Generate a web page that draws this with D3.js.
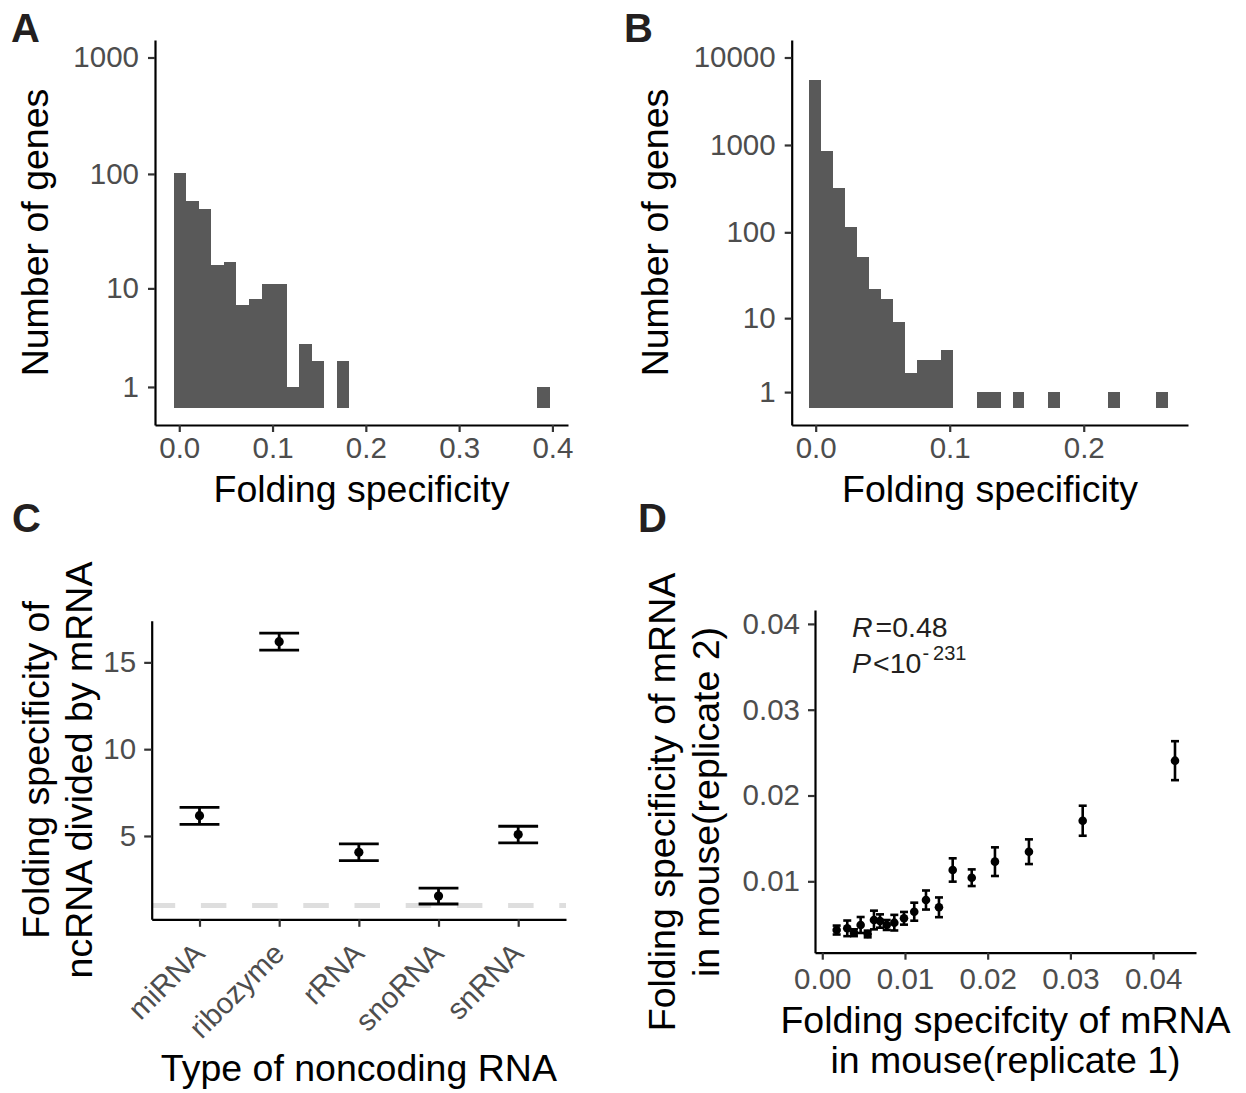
<!DOCTYPE html>
<html>
<head>
<meta charset="utf-8">
<script src="https://cdn.jsdelivr.net/npm/d3@7"></script>
<style>
  body { margin: 0; background: #fff; }
  svg { display: block; font-family: "Liberation Sans", Arial, Helvetica, sans-serif; }
</style>
</head>
<body>
<svg id="fig" width="1246" height="1093"></svg>
<script>
// ---------- Panel A: folding specificity histogram (30 bins) ----------
const binStartA = -0.0058;
const binWidthA = 0.01343;
const countsA = [102, 58, 50, 16, 17, 7, 8, 11, 11, 1, 3, 2, 0, 2, 0,
                 0, 0, 0, 0, 0, 0, 0, 0, 0, 0, 0, 0, 0, 0, 1];
const xTicksA = [0, 0.1, 0.2, 0.3, 0.4];
const yTicksA = [1, 10, 100, 1000];

// ---------- Panel B: folding specificity histogram (30 bins) ----------
const binStartB = -0.0050;
const binWidthB = 0.008933;
const countsB = [5600, 860, 326, 116, 52, 22, 17, 9, 2, 3, 3, 4, 0, 0, 1,
                 1, 0, 1, 0, 0, 1, 0, 0, 0, 0, 1, 0, 0, 0, 1];
const xTicksB = [0, 0.1, 0.2];
const yTicksB = [1, 10, 100, 1000, 10000];

// ---------- Panel C: ncRNA / mRNA folding specificity ----------
const rnaTypes = ["miRNA", "ribozyme", "rRNA", "snoRNA", "snRNA"];
const ratioMean = [6.17, 16.19, 4.06, 1.54, 5.08];
const ratioLow  = [5.67, 15.70, 3.58, 1.08, 4.60];
const ratioHigh = [6.65, 16.69, 4.54, 2.00, 5.56];
const yTicksC = [5, 10, 15];
const refLineC = 1;

// ---------- Panel D: replicate 1 vs replicate 2 (binned means ± error) ----------
const rep1 = [0.00174, 0.00302, 0.00383, 0.00464, 0.00549, 0.00625, 0.00698, 0.00779,
              0.00871, 0.00988, 0.01112, 0.01254, 0.01411, 0.01577, 0.01807, 0.02088,
              0.02499, 0.03149, 0.04265];
const rep2 = [0.00432, 0.00452, 0.00401, 0.00491, 0.00386, 0.00549, 0.00537, 0.00491,
              0.00518, 0.00569, 0.00646, 0.00782, 0.00697, 0.01132, 0.01042, 0.01229,
              0.01345, 0.01706, 0.02406];
const rep2Err = [0.00052, 0.00091, 0.00040, 0.00093, 0.00039, 0.00109, 0.00078, 0.00058,
                 0.00091, 0.00074, 0.00105, 0.00111, 0.00115, 0.00136, 0.00097, 0.00167,
                 0.00144, 0.00175, 0.00227];
const xTicksD = [0, 0.01, 0.02, 0.03, 0.04];
const yTicksD = [0.01, 0.02, 0.03, 0.04];

// ---------- shared styling ----------
const FONT = '"Liberation Sans", Arial, Helvetica, sans-serif';
const TICK_FS = 29.5;
const TITLE_FS = 37.5;
const LETTER_FS = 40;
const BAR_FILL = "#595959";
const TICK_COLOR = "#4d4d4d";

const svg = d3.select("#fig");
svg.append("rect").attr("width", 1246).attr("height", 1093).attr("fill", "#fff");

function styleAxis(g) {
  g.attr("font-family", FONT).attr("font-size", TICK_FS);
  g.select(".domain").attr("stroke", "#000").attr("stroke-width", 2.2);
  g.selectAll(".tick line").attr("stroke", "#333").attr("stroke-width", 2.2);
  g.selectAll(".tick text").attr("fill", TICK_COLOR);
}

function letter(txt, x, y) {
  svg.append("text").attr("x", x).attr("y", y).text(txt)
    .attr("font-size", LETTER_FS).attr("font-weight", "bold").attr("fill", "#231f20");
}

function title(lines, x, y, rotate, lineGap) {
  const t = svg.append("text")
    .attr("font-size", TITLE_FS).attr("fill", "#000").attr("text-anchor", "middle")
    .attr("transform", rotate ? `translate(${x},${y}) rotate(-90)` : `translate(${x},${y})`);
  lines.forEach((s, i) => {
    t.append("tspan").attr("x", 0).attr("y", rotate ? (i - (lines.length - 1)) * lineGap : i * lineGap).text(s);
  });
}

// log-count transform used on the histogram y axes
const logCount = v => Math.log10(v + 0.5);

function histogram(opts) {
  const { counts, binStart, binWidth, xTicks, yTicks, left, right, top, bottom, xDomain } = opts;
  const x = d3.scaleLinear().domain(xDomain).range([left, right]);
  const tMax = logCount(d3.max(yTicks));
  const y = d3.scaleLinear().domain([-0.05 * tMax, 1.05 * tMax]).range([bottom, top]);

  const bins = counts.map((c, i) => ({ c, x0: binStart + i * binWidth, x1: binStart + (i + 1) * binWidth }))
    .filter(b => b.c > 0);
  svg.append("g").selectAll("rect").data(bins).join("rect")
    .attr("x", b => x(b.x0))
    .attr("width", b => x(b.x1) - x(b.x0))
    .attr("y", b => y(logCount(b.c)))
    .attr("height", b => y(0) - y(logCount(b.c)))
    .attr("fill", BAR_FILL)
    .attr("shape-rendering", "crispEdges");

  const yAxis = d3.axisLeft(y).tickValues(yTicks.map(logCount))
    .tickFormat((d, i) => String(yTicks[i])).tickSizeInner(7).tickSizeOuter(0).tickPadding(9);
  svg.append("g").attr("transform", `translate(${left},0)`).call(yAxis).call(styleAxis);

  const xAxis = d3.axisBottom(x).tickValues(xTicks).tickFormat(d3.format(".1f"))
    .tickSizeInner(7).tickSizeOuter(0).tickPadding(5);
  svg.append("g").attr("transform", `translate(0,${bottom})`).call(xAxis).call(styleAxis);
}

// ---------- Panel A ----------
letter("A", 11, 42);
histogram({
  counts: countsA, binStart: binStartA, binWidth: binWidthA,
  xTicks: xTicksA, yTicks: yTicksA,
  left: 155, right: 568, top: 40, bottom: 425,
  xDomain: [-0.0260, 0.4167]
});
title(["Folding specificity"], 361.5, 502, false, 0);
title(["Number of genes"], 48, 232.5, true, 0);

// ---------- Panel B ----------
letter("B", 624, 42);
histogram({
  counts: countsB, binStart: binStartB, binWidth: binWidthB,
  xTicks: xTicksB, yTicks: yTicksB,
  left: 791.7, right: 1188, top: 40, bottom: 425,
  xDomain: [-0.0179, 0.2778]
});
title(["Folding specificity"], 990, 502, false, 0);
title(["Number of genes"], 668, 232.5, true, 0);

// ---------- Panel C ----------
letter("C", 12, 532);
{
  const left = 151.7, right = 566, top = 620.7, bottom = 919.3;
  const x = d3.scalePoint().domain(rnaTypes).range([left, right]).padding(0.6);
  const y = d3.scaleLinear().domain([0.2, 17.4]).range([bottom, top]);
  const capHalf = x.step() * 0.25;

  svg.append("line")
    .attr("x1", left).attr("x2", right)
    .attr("y1", y(refLineC)).attr("y2", y(refLineC))
    .attr("stroke", "#dedede").attr("stroke-width", 5)
    .attr("stroke-dasharray", "25.5 25.7").attr("stroke-dashoffset", 2);

  const g = svg.append("g");
  rnaTypes.forEach((t, i) => {
    const cx = x(t);
    g.append("line").attr("x1", cx).attr("x2", cx)
      .attr("y1", y(ratioLow[i])).attr("y2", y(ratioHigh[i]))
      .attr("stroke", "#000").attr("stroke-width", 2.8);
    [ratioLow[i], ratioHigh[i]].forEach(v => {
      g.append("line").attr("x1", cx - capHalf).attr("x2", cx + capHalf)
        .attr("y1", y(v)).attr("y2", y(v))
        .attr("stroke", "#000").attr("stroke-width", 2.8);
    });
    g.append("circle").attr("cx", cx).attr("cy", y(ratioMean[i])).attr("r", 4.6).attr("fill", "#000");
  });

  const yAxis = d3.axisLeft(y).tickValues(yTicksC).tickFormat(d3.format("d"))
    .tickSizeInner(7.5).tickSizeOuter(0).tickPadding(8);
  svg.append("g").attr("transform", `translate(${left},0)`).call(yAxis).call(styleAxis);

  const xAxis = d3.axisBottom(x).tickSizeInner(7.5).tickSizeOuter(0).tickFormat("");
  const gx = svg.append("g").attr("transform", `translate(0,${bottom})`).call(xAxis).call(styleAxis);
  gx.selectAll(".tick text").remove();

  svg.append("g").selectAll("text").data(rnaTypes).join("text")
    .attr("transform", d => `translate(${x(d) + 7},${bottom + 36}) rotate(-45)`)
    .attr("text-anchor", "end")
    .attr("font-size", TICK_FS).attr("fill", TICK_COLOR)
    .text(d => d);

  title(["Type of noncoding RNA"], (left + right) / 2, 1081, false, 0);
  title(["Folding specificity of", "ncRNA divided by mRNA"], 91.5, (top + bottom) / 2, true, 43);
}

// ---------- Panel D ----------
letter("D", 638, 532);
{
  const left = 815, right = 1196, top = 610, bottom = 952.7;
  const x = d3.scaleLinear().domain([-0.00088, 0.04519]).range([left, right]);
  const y = d3.scaleLinear().domain([0.00168, 0.04162]).range([bottom, top]);
  const capHalf = 4;

  const g = svg.append("g");
  rep1.forEach((xv, i) => {
    const cx = x(xv);
    const lo = y(rep2[i] - rep2Err[i]), hi = y(rep2[i] + rep2Err[i]);
    g.append("line").attr("x1", cx).attr("x2", cx).attr("y1", lo).attr("y2", hi)
      .attr("stroke", "#000").attr("stroke-width", 2.6);
    [lo, hi].forEach(yy => {
      g.append("line").attr("x1", cx - capHalf).attr("x2", cx + capHalf)
        .attr("y1", yy).attr("y2", yy).attr("stroke", "#000").attr("stroke-width", 2.6);
    });
    g.append("circle").attr("cx", cx).attr("cy", y(rep2[i])).attr("r", 4.3).attr("fill", "#000");
  });

  const yAxis = d3.axisLeft(y).tickValues(yTicksD).tickFormat(d3.format(".2f"))
    .tickSizeInner(7).tickSizeOuter(0).tickPadding(8);
  svg.append("g").attr("transform", `translate(${left},0)`).call(yAxis).call(styleAxis);

  const xAxis = d3.axisBottom(x).tickValues(xTicksD).tickFormat(d3.format(".2f"))
    .tickSizeInner(7).tickSizeOuter(0).tickPadding(8);
  svg.append("g").attr("transform", `translate(0,${bottom})`).call(xAxis).call(styleAxis);

  // correlation annotation
  const ann = svg.append("g").attr("font-size", 28.5).attr("fill", "#231f20");
  const r = ann.append("text").attr("x", 852).attr("y", 637);
  r.append("tspan").attr("font-style", "italic").text("R");
  r.append("tspan").attr("dx", 3).text("=0.48");
  const p = ann.append("text").attr("x", 852).attr("y", 673);
  p.append("tspan").attr("font-style", "italic").text("P");
  p.append("tspan").attr("dx", 2).text("<10");
  p.append("tspan").attr("font-size", 20).attr("dy", -13).attr("dx", 1).text("-");
  p.append("tspan").attr("font-size", 20).attr("dx", 4).text("231");

  title(["Folding specifcity of mRNA", "in mouse(replicate 1)"], (left + right) / 2, 1033, false, 40);
  title(["Folding specificity of mRNA", "in mouse(replicate 2)"], 719, 802, true, 44);
}
</script>
</body>
</html>
